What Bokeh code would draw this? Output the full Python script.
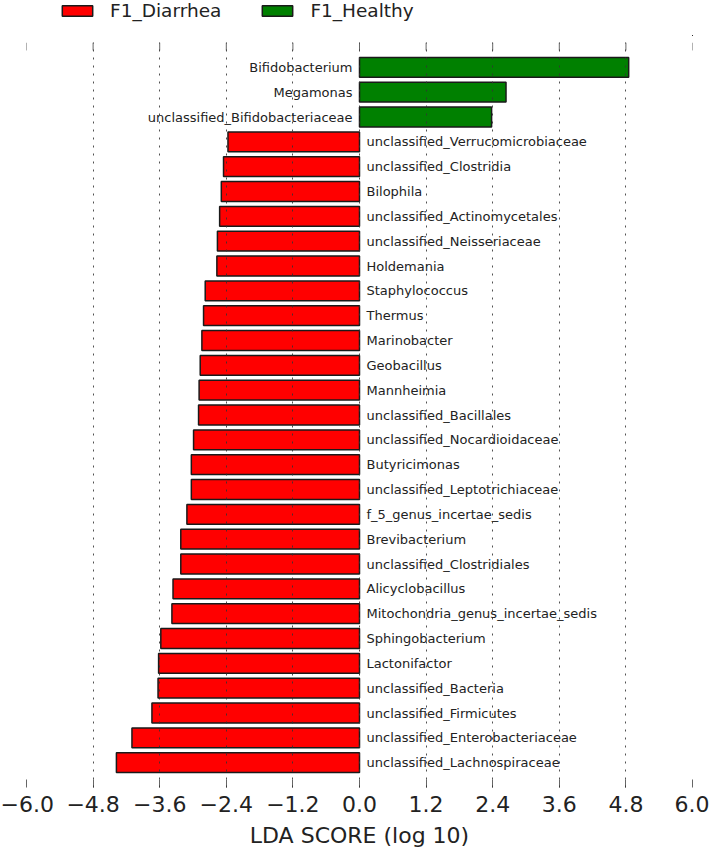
from bokeh.plotting import figure
from bokeh.layouts import column
from bokeh.models import (ColumnDataSource, Range1d, FixedTicker, LinearAxis, Grid,
                          Legend, LegendItem, CustomJSTickFormatter)
from bokeh.core.properties import value
from bokeh.embed import file_html
from bokeh.resources import INLINE

# ---- data (top to bottom as in the chart) ----
taxa = [
    "Bifidobacterium", "Megamonas", "unclassified_Bifidobacteriaceae",
    "unclassified_Verrucomicrobiaceae", "unclassified_Clostridia", "Bilophila",
    "unclassified_Actinomycetales", "unclassified_Neisseriaceae", "Holdemania",
    "Staphylococcus", "Thermus", "Marinobacter", "Geobacillus", "Mannheimia",
    "unclassified_Bacillales", "unclassified_Nocardioidaceae", "Butyricimonas",
    "unclassified_Leptotrichiaceae", "f_5_genus_incertae_sedis", "Brevibacterium",
    "unclassified_Clostridiales", "Alicyclobacillus", "Mitochondria_genus_incertae_sedis",
    "Sphingobacterium", "Lactonifactor", "unclassified_Bacteria",
    "unclassified_Firmicutes", "unclassified_Enterobacteriaceae",
    "unclassified_Lachnospiraceae",
]
lda = [
    4.85, 2.64, 2.38,
    -2.37, -2.45, -2.49, -2.52, -2.56, -2.57,
    -2.78, -2.81, -2.84, -2.87, -2.89, -2.90,
    -2.99, -3.03, -3.03, -3.11, -3.22, -3.22,
    -3.36, -3.38, -3.58, -3.62, -3.63, -3.74,
    -4.10, -4.38,
]
group = ["F1_Healthy"] * 3 + ["F1_Diarrhea"] * 26
class_names = ["F1_Diarrhea", "F1_Healthy"]
class_colors = ["#ff0000", "#008000"]
tick_values = [-6.0, -4.8, -3.6, -2.4, -1.2, 0.0, 1.2, 2.4, 3.6, 4.8, 6.0]
x_title = "LDA SCORE (log 10)"

n = len(taxa)
ypos = [n - 1 - i for i in range(n)]

FONT = "DejaVu Sans"
TXT = "#222222"
EDGE = "#1a1a1a"

# ---------------- main chart ----------------
p = figure(width=709, height=814, output_backend="svg", toolbar_location=None,
           x_range=Range1d(tick_values[0], tick_values[-1]), y_range=Range1d(-1, n),
           y_axis_location=None, x_axis_location=None,
           min_border_left=26, min_border_right=17, min_border_top=6, min_border_bottom=62)
p.outline_line_color = None
p.xgrid.visible = False
p.ygrid.visible = False

sources = {}
for cname, col in zip(class_names, class_colors):
    idx = [i for i in range(n) if group[i] == cname]
    sources[cname] = ColumnDataSource(dict(
        y=[ypos[i] for i in idx],
        left=[min(0, lda[i]) for i in idx],
        right=[max(0, lda[i]) for i in idx],
    ))
    p.hbar(y="y", left="left", right="right", height=0.8, source=sources[cname],
           fill_color=col, line_color=EDGE, line_width=1.5)

# labels
pos_i = [i for i in range(n) if lda[i] > 0]
neg_i = [i for i in range(n) if lda[i] < 0]
pos_src = ColumnDataSource(dict(x=[0] * len(pos_i), y=[ypos[i] for i in pos_i], t=[taxa[i] for i in pos_i]))
neg_src = ColumnDataSource(dict(x=[0] * len(neg_i), y=[ypos[i] for i in neg_i], t=[taxa[i] for i in neg_i]))
p.text(x="x", y="y", text="t", source=pos_src, x_offset=-7, text_align="right",
       text_baseline="middle", text_font=value(FONT), text_font_size="13px", text_color=TXT)
p.text(x="x", y="y", text="t", source=neg_src, x_offset=7, text_align="left",
       text_baseline="middle", text_font=value(FONT), text_font_size="13px", text_color=TXT)

# grids (drawn over the bars, as in the reference)
inner = Grid(dimension=0, ticker=FixedTicker(ticks=tick_values[1:-1]), grid_line_color="#333333",
             grid_line_dash="2 6", grid_line_width=1, grid_line_alpha=0.85, level="overlay")
outer = Grid(dimension=0, ticker=FixedTicker(ticks=[tick_values[0], tick_values[-1]]),
             grid_line_color="#bbbbbb", grid_line_dash="2 6", grid_line_width=1, level="overlay")
p.add_layout(inner)
p.add_layout(outer)

# top inward ticks
p.segment(x0=tick_values, x1=tick_values, y0=[n] * len(tick_values),
          y1=[n - 0.32] * len(tick_values), line_color="#666666", line_width=1)

fmt = CustomJSTickFormatter(code="return tick.toFixed(1).replace('-', '\u2212');")

bottom = LinearAxis(ticker=FixedTicker(ticks=tick_values), formatter=fmt,
                    axis_line_color=None, major_tick_in=8, major_tick_out=0,
                    major_tick_line_color="#666666", minor_tick_line_color=None,
                    major_label_text_font=FONT, major_label_text_font_size="22px",
                    major_label_text_color=TXT, major_label_standoff=8,
                    axis_label=x_title, axis_label_text_font=FONT,
                    axis_label_text_font_size="22px", axis_label_text_font_style="normal",
                    axis_label_text_color=TXT, axis_label_standoff=8)
p.add_layout(bottom, "below")

# ---------------- legend strip ----------------
# the strip references the same bar data; its ranges lie away from the bars,
# so no bar is visible there and only the legend entries show.
lg = figure(width=709, height=36, output_backend="svg", toolbar_location=None,
            x_range=Range1d(-101, -100), y_range=Range1d(n + 1, n + 2),
            x_axis_location=None, y_axis_location=None,
            min_border_left=26, min_border_right=17, min_border_top=0, min_border_bottom=0)
lg.outline_line_color = None
lg.xgrid.visible = False
lg.ygrid.visible = False
items = []
for cname, col in zip(class_names, class_colors):
    r = lg.hbar(y="y", left="left", right="right", height=0.8, source=sources[cname],
                fill_color=col, line_color=EDGE, line_width=1.5)
    items.append(LegendItem(label=cname, renderers=[r]))
legend = Legend(items=items, orientation="horizontal", location=(32, 15),
                glyph_width=38, glyph_height=13, label_standoff=14, spacing=37,
                padding=0, margin=0, border_line_color=None, background_fill_alpha=0,
                label_text_font=FONT, label_text_font_size="18.5px", label_text_color=TXT)
lg.add_layout(legend, "center")

layout = column(lg, p, spacing=0)
open("out.html", "w").write(file_html(layout, INLINE))
